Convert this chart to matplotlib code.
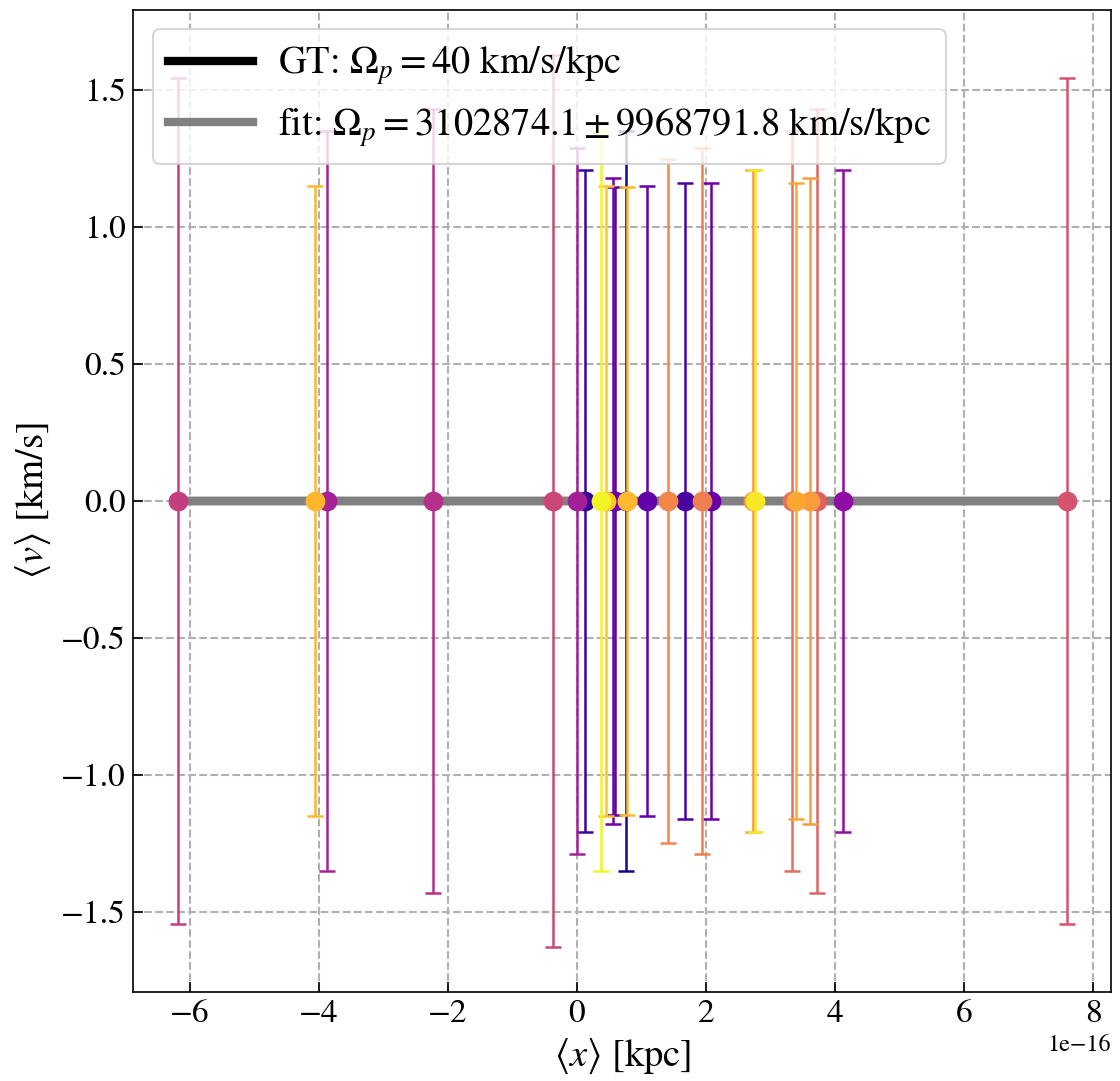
import numpy as np
import matplotlib
matplotlib.use("Agg")
import matplotlib.pyplot as plt

plt.rcParams["font.family"] = "STIXGeneral"
plt.rcParams["mathtext.fontset"] = "stix"
plt.rcParams["font.size"] = 16

# Mean position (units of 1e-16 kpc), mean velocity, velocity uncertainty, colour value
x_mean = [-6.19, -4.06, -3.87, -2.24, -0.37, 0.00, 0.13, 0.37, 0.45, 0.56,
          0.59, 0.76, 0.78, 1.09, 1.41, 1.68, 1.93, 2.07, 2.73, 2.76,
          3.34, 3.39, 3.61, 3.72, 4.12, 7.59]
v_mean = [0.0] * 26
v_err = [1.545, 1.15, 1.35, 1.43, 1.63, 1.29, 1.21, 1.35, 1.15, 1.18,
         1.146, 1.35, 1.146, 1.15, 1.25, 1.16, 1.29, 1.16, 1.21, 1.21,
         1.35, 1.16, 1.18, 1.43, 1.21, 1.545]
c_val = [0.47, 0.84, 0.37, 0.42, 0.50, 0.36, 0.08, 0.99, 0.88, 0.22,
         0.16, 0.01, 0.85, 0.18, 0.71, 0.12, 0.68, 0.20, 0.75, 0.96,
         0.63, 0.80, 0.77, 0.59, 0.30, 0.54]

omega_gt = 40.0
omega_fit = 3102874.1
omega_fit_err = 9968791.8

x = np.array(x_mean) * 1e-16
v = np.array(v_mean)
err = np.array(v_err)
colors = plt.cm.plasma(np.array(c_val))

fig = plt.figure(figsize=(1120 / 150, 1081 / 150), dpi=150)
ax = fig.add_axes([0.119, 0.0823, 0.873, 0.9084])

x_line = np.array([x.min(), x.max()])
ax.plot(x_line, omega_gt * x_line, color="black", lw=4,
        label=r"GT: $\Omega_p = 40$ km/s/kpc")
ax.plot(x_line, omega_fit * x_line, color="gray", lw=4,
        label=r"fit: $\Omega_p = %.1f \pm %.1f$ km/s/kpc" % (omega_fit, omega_fit_err))

for i in np.argsort(c_val, kind="stable"):
    ax.errorbar(x[i], v[i], yerr=err[i], fmt="o", color=colors[i],
                markersize=8.5, elinewidth=1.2, capsize=3.8, capthick=1.2)

ax.grid(True, linestyle="--", color="#b0b0b0", linewidth=1.0)
ax.tick_params(direction="in", length=5)
ax.set_xlabel(r"$\langle x \rangle$ [kpc]", fontsize=18.5)
ax.set_ylabel(r"$\langle v \rangle$ [km/s]", fontsize=18.5)
ax.xaxis.get_offset_text().set_fontsize(11.5)
ax.legend(loc="upper left", handlelength=2.2, handletextpad=0.65, fontsize=18.5)

fig.savefig("out.png", dpi=150)
